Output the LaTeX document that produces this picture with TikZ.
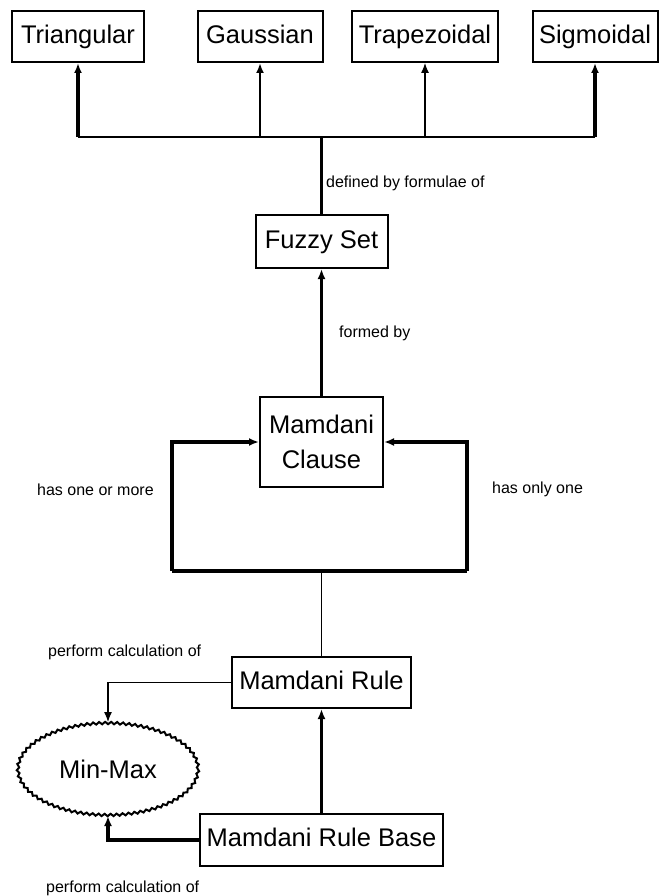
\documentclass[tikz,border=0pt]{standalone}
\usepackage{fontspec}
\setmainfont{Liberation Sans}
\usetikzlibrary{arrows.meta,shapes.geometric,decorations.pathmorphing}

\tikzset{
  box/.style={draw, line width=2pt, inner sep=0pt, minimum height=51pt,
    text height=18.5pt, text depth=5pt, font=\fontsize{25.5}{29}\selectfont},
  lbl/.style={anchor=west, inner sep=0pt, font=\fontsize{16}{18}\selectfont},
  tip/.style={-{Latex[length=10pt,width=8pt]}},
  heavy/.style={line width=3.6pt},
  mid/.style={line width=2.2pt},
  fine/.style={line width=1.2pt}
}

\begin{document}
\begin{tikzpicture}[x=1pt,y=-1pt]
\useasboundingbox (0,0) rectangle (666,896);

  \node[box,minimum width=132pt] (tri) at (78,36.5) {Triangular};
  \node[box,minimum width=125pt] (gau) at (260,36.5) {Gaussian};
  \node[box,minimum width=146pt] (trap) at (425,36.5) {Trapezoidal};
  \node[box,minimum width=125pt] (sig) at (595,36.5) {Sigmoidal};

  \node[box,minimum width=132pt,minimum height=53pt] (fuzzy) at (321.5,241.5) {Fuzzy Set};
  \node[box,minimum width=123pt,minimum height=90pt,align=center,text height=,text depth=] (clause) at (321.5,442) {Mamdani\\[6pt]Clause};
  \node[box,minimum width=179pt] (rule) at (321.5,682.5) {Mamdani Rule};
  \node[box,minimum width=243pt,minimum height=52pt] (base) at (321.5,840) {Mamdani Rule Base};
  \node[ellipse,draw,line width=2pt,minimum width=180pt,minimum height=92pt,inner sep=0pt,
    decorate,decoration={zigzag,segment length=6pt,amplitude=1.2pt},
    font=\fontsize{25.5}{29}\selectfont] (minmax) at (108,769) {Min-Max};

  \node[lbl] (ldef) at (326,183) {defined by formulae of};
  \node[lbl] (lform) at (339,333) {formed by};
  \node[lbl] (lmore) at (37,490) {has one or more};
  \node[lbl] (lonly) at (492,489) {has only one};
  \node[lbl] (lcalc) at (48,652) {perform calculation of};
  \node[lbl] (lcalcb) at (46,888) {perform calculation of};

  \coordinate (bus) at (321.5,137);
  \coordinate (lb) at (172,571);
  \coordinate (rb) at (467,571);

  \draw[mid] (tri.south |- bus) -- (sig.south |- bus);
  \draw[mid] (fuzzy) -- (bus);
  \draw[heavy,tip] (tri.south |- bus) -- (tri);
  \draw[mid,tip] (gau.south |- bus) -- (gau);
  \draw[fine,tip] (trap.south |- bus) -- (trap);
  \draw[heavy,tip] (sig.south |- bus) -- (sig);

  \draw[mid,tip] (clause) -- (fuzzy);

  \draw[heavy] (lb) -- (rb);
  \draw[heavy,tip] (lb) |- (clause.west);
  \draw[heavy,tip] (rb) |- (clause.east);
  \draw[fine] (rule) -- (rule.north |- lb);

  \draw[fine,tip] (rule.west) -| (minmax.north);
  \draw[mid,tip] (base) -- (rule);
  \draw[heavy,tip] (base.west) -| (minmax.south);

\end{tikzpicture}
\end{document}
